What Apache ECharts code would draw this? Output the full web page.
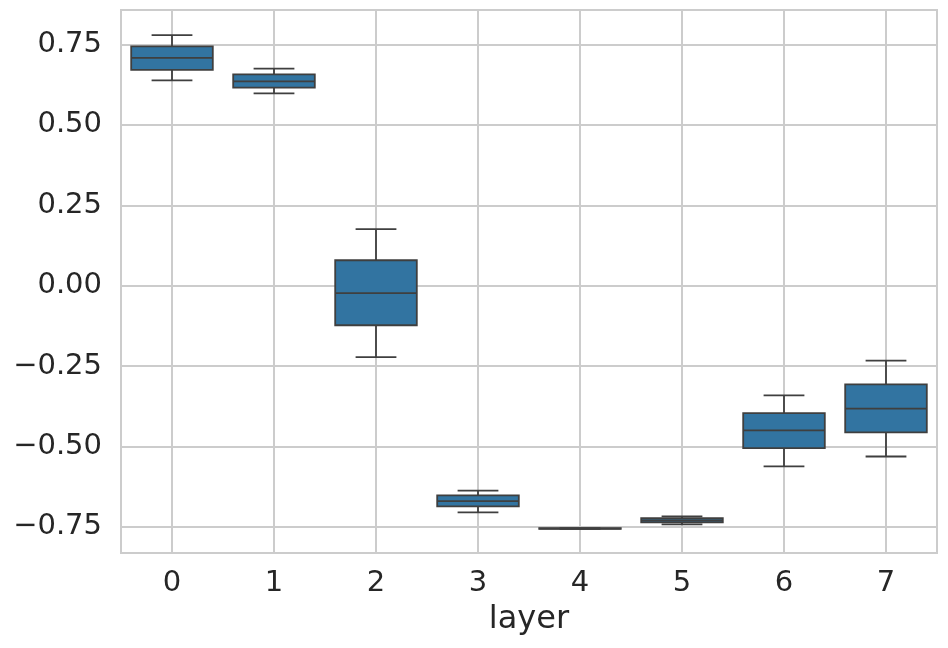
<!DOCTYPE html>
<html>
<head>
<meta charset="utf-8">
<script src="https://cdn.jsdelivr.net/npm/echarts@6/dist/echarts.min.js"></script>
<style>html,body{margin:0;padding:0;background:#fff}#c{width:948px;height:648px}</style>
</head>
<body>
<div id="c"></div>
<script>
const categories = ['0','1','2','3','4','5','6','7'];
const whiskerLow = [0.638, 0.598, -0.222, -0.705, -0.756, -0.742, -0.562, -0.531];
const q1 =         [0.671, 0.616, -0.123, -0.686, -0.755, -0.736, -0.505, -0.456];
const median =     [0.708, 0.635, -0.023, -0.670, -0.755, -0.730, -0.450, -0.382];
const q3 =         [0.744, 0.657,  0.079, -0.652, -0.754, -0.723, -0.396, -0.307];
const whiskerHigh =[0.779, 0.675,  0.176, -0.637, -0.754, -0.717, -0.341, -0.233];
const yTicks = [-0.75, -0.5, -0.25, 0, 0.25, 0.5, 0.75];
const xTicks = [0,1,2,3,4,5,6,7];

const data = categories.map((c,i)=>[i, whiskerLow[i], q1[i], median[i], q3[i], whiskerHigh[i]]);
const FILL = '#3274a1', EDGE = '#3f3f3f', GRID = '#cccccc', TXT = '#262626';
const FONT = 'DejaVu Sans';

const chart = echarts.init(document.getElementById('c'), null, {renderer:'canvas'});
chart.setOption({
  animation:false,
  backgroundColor:'#fff',
  grid:{left:121, right:11, top:10, bottom:95, show:true, borderColor:GRID, borderWidth:2, backgroundColor:'transparent'},
  xAxis:{
    type:'value', min:-0.5, max:7.5,
    name:'layer', nameLocation:'middle', nameGap:51,
    nameTextStyle:{fontFamily:FONT, fontSize:32, color:TXT},
    axisLine:{show:false},
    axisTick:{show:false, customValues:xTicks},
    axisLabel:{customValues:xTicks, fontFamily:FONT, fontSize:29, color:TXT, margin:16,
      formatter:v=>categories[Math.round(v)]},
    splitLine:{show:true, lineStyle:{color:GRID, width:2}}
  },
  yAxis:{
    type:'value', min:-0.831, max:0.857,
    axisLine:{show:false},
    axisTick:{show:false, customValues:yTicks},
    axisLabel:{customValues:yTicks, fontFamily:FONT, fontSize:29, color:TXT, margin:19,
      formatter:v=>(v<0?'\u2212':'')+Math.abs(v).toFixed(2)},
    splitLine:{show:true, lineStyle:{color:GRID, width:2}}
  },
  series:[{
    type:'custom',
    data:data,
    encode:{x:0, y:[1,2,3,4,5]},
    renderItem:function(params, api){
      const x = api.value(0);
      const pLow = api.coord([x, api.value(1)]);
      const pQ1 = api.coord([x, api.value(2)]);
      const pMed = api.coord([x, api.value(3)]);
      const pQ3 = api.coord([x, api.value(4)]);
      const pHigh = api.coord([x, api.value(5)]);
      const bw = api.size([0.8, 0])[0];
      const cw = bw/2;
      const cx = pMed[0];
      const ls = {stroke:EDGE, lineWidth:1.8, fill:null};
      return {type:'group', children:[
        {type:'line', shape:{x1:cx, y1:pQ3[1], x2:cx, y2:pHigh[1]}, style:ls},
        {type:'line', shape:{x1:cx, y1:pQ1[1], x2:cx, y2:pLow[1]}, style:ls},
        {type:'line', shape:{x1:cx-cw/2, y1:pHigh[1], x2:cx+cw/2, y2:pHigh[1]}, style:ls},
        {type:'line', shape:{x1:cx-cw/2, y1:pLow[1], x2:cx+cw/2, y2:pLow[1]}, style:ls},
        {type:'rect', shape:{x:cx-bw/2, y:pQ3[1], width:bw, height:Math.max(pQ1[1]-pQ3[1],0.5)},
          style:{fill:FILL, stroke:EDGE, lineWidth:1.8}},
        {type:'line', shape:{x1:cx-bw/2, y1:pMed[1], x2:cx+bw/2, y2:pMed[1]}, style:ls}
      ]};
    }
  }]
});
</script>
</body>
</html>
